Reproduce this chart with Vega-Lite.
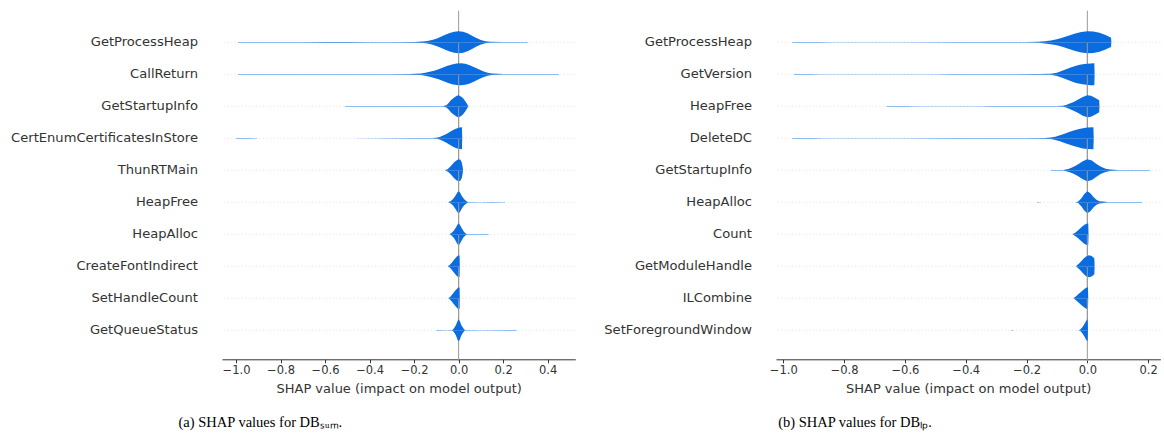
{
  "$schema": "https://vega.github.io/schema/vega-lite/v6.json",
  "background": "white",
  "padding": {"left": 11, "top": 9.5, "right": 0, "bottom": 0},
  "config": {
    "view": {"stroke": null},
    "axis": {"grid": false, "domainColor": "#333333", "tickColor": "#333333", "tickSize": 3.5, "labelFont": "DejaVu Sans", "labelFontSize": 11.5, "labelColor": "#333333", "labelPadding": 2, "titleFont": "DejaVu Sans", "titleFontSize": 13, "titleFontWeight": "normal", "titleColor": "#333333", "titlePadding": 6, "offset": 12.8}
  },
  "datasets": {
    "a": [
      {"feature":"GetProcessHeap","x":-0.99,"w":0.025},{"feature":"GetProcessHeap","x":-0.9,"w":0.03},{"feature":"GetProcessHeap","x":-0.8,"w":0.025},{"feature":"GetProcessHeap","x":-0.7,"w":0.03},{"feature":"GetProcessHeap","x":-0.6,"w":0.035},{"feature":"GetProcessHeap","x":-0.5,"w":0.035},{"feature":"GetProcessHeap","x":-0.4,"w":0.03},{"feature":"GetProcessHeap","x":-0.3,"w":0.03},{"feature":"GetProcessHeap","x":-0.2,"w":0.035},{"feature":"GetProcessHeap","x":-0.16,"w":0.06},{"feature":"GetProcessHeap","x":-0.14,"w":0.11},{"feature":"GetProcessHeap","x":-0.12,"w":0.2},{"feature":"GetProcessHeap","x":-0.1,"w":0.33},{"feature":"GetProcessHeap","x":-0.08,"w":0.5},{"feature":"GetProcessHeap","x":-0.06,"w":0.68},{"feature":"GetProcessHeap","x":-0.04,"w":0.84},{"feature":"GetProcessHeap","x":-0.02,"w":0.96},{"feature":"GetProcessHeap","x":0,"w":1},{"feature":"GetProcessHeap","x":0.02,"w":0.96},{"feature":"GetProcessHeap","x":0.04,"w":0.82},{"feature":"GetProcessHeap","x":0.06,"w":0.6},{"feature":"GetProcessHeap","x":0.08,"w":0.38},{"feature":"GetProcessHeap","x":0.1,"w":0.2},{"feature":"GetProcessHeap","x":0.12,"w":0.09},{"feature":"GetProcessHeap","x":0.14,"w":0.04},{"feature":"GetProcessHeap","x":0.2,"w":0.03},{"feature":"GetProcessHeap","x":0.25,"w":0.03},{"feature":"GetProcessHeap","x":0.31,"w":0.025},
      {"feature":"CallReturn","x":-0.99,"w":0.025},{"feature":"CallReturn","x":-0.9,"w":0.025},{"feature":"CallReturn","x":-0.8,"w":0.03},{"feature":"CallReturn","x":-0.7,"w":0.03},{"feature":"CallReturn","x":-0.6,"w":0.03},{"feature":"CallReturn","x":-0.5,"w":0.03},{"feature":"CallReturn","x":-0.4,"w":0.03},{"feature":"CallReturn","x":-0.3,"w":0.03},{"feature":"CallReturn","x":-0.22,"w":0.035},{"feature":"CallReturn","x":-0.17,"w":0.07},{"feature":"CallReturn","x":-0.15,"w":0.13},{"feature":"CallReturn","x":-0.13,"w":0.22},{"feature":"CallReturn","x":-0.11,"w":0.33},{"feature":"CallReturn","x":-0.09,"w":0.46},{"feature":"CallReturn","x":-0.07,"w":0.62},{"feature":"CallReturn","x":-0.05,"w":0.78},{"feature":"CallReturn","x":-0.03,"w":0.9},{"feature":"CallReturn","x":-0.01,"w":0.98},{"feature":"CallReturn","x":0.01,"w":1},{"feature":"CallReturn","x":0.03,"w":0.95},{"feature":"CallReturn","x":0.05,"w":0.83},{"feature":"CallReturn","x":0.07,"w":0.65},{"feature":"CallReturn","x":0.09,"w":0.45},{"feature":"CallReturn","x":0.11,"w":0.28},{"feature":"CallReturn","x":0.13,"w":0.14},{"feature":"CallReturn","x":0.15,"w":0.06},{"feature":"CallReturn","x":0.2,"w":0.03},{"feature":"CallReturn","x":0.3,"w":0.03},{"feature":"CallReturn","x":0.4,"w":0.025},{"feature":"CallReturn","x":0.45,"w":0.025},
      {"feature":"GetStartupInfo","x":-0.51,"w":0.02},{"feature":"GetStartupInfo","x":-0.4,"w":0.025},{"feature":"GetStartupInfo","x":-0.3,"w":0.02},{"feature":"GetStartupInfo","x":-0.2,"w":0.025},{"feature":"GetStartupInfo","x":-0.1,"w":0.025},{"feature":"GetStartupInfo","x":-0.07,"w":0.03},{"feature":"GetStartupInfo","x":-0.055,"w":0.1},{"feature":"GetStartupInfo","x":-0.045,"w":0.3},{"feature":"GetStartupInfo","x":-0.035,"w":0.55},{"feature":"GetStartupInfo","x":-0.02,"w":0.8},{"feature":"GetStartupInfo","x":-0.008,"w":0.96},{"feature":"GetStartupInfo","x":0,"w":1},{"feature":"GetStartupInfo","x":0.01,"w":0.9},{"feature":"GetStartupInfo","x":0.02,"w":0.72},{"feature":"GetStartupInfo","x":0.03,"w":0.45},{"feature":"GetStartupInfo","x":0.038,"w":0.2},{"feature":"GetStartupInfo","x":0.042,"w":0.05},{"feature":"GetStartupInfo","x":0.045,"w":0},
      {"feature":"CertEnumCertificatesInStore","x":-1.0,"w":0.025},{"feature":"CertEnumCertificatesInStore","x":-0.95,"w":0.025},{"feature":"CertEnumCertificatesInStore","x":-0.9,"w":0.008},{"feature":"CertEnumCertificatesInStore","x":-0.5,"w":0.008},{"feature":"CertEnumCertificatesInStore","x":-0.2,"w":0.015},{"feature":"CertEnumCertificatesInStore","x":-0.12,"w":0.02},{"feature":"CertEnumCertificatesInStore","x":-0.1,"w":0.05},{"feature":"CertEnumCertificatesInStore","x":-0.085,"w":0.12},{"feature":"CertEnumCertificatesInStore","x":-0.07,"w":0.25},{"feature":"CertEnumCertificatesInStore","x":-0.055,"w":0.4},{"feature":"CertEnumCertificatesInStore","x":-0.04,"w":0.58},{"feature":"CertEnumCertificatesInStore","x":-0.025,"w":0.76},{"feature":"CertEnumCertificatesInStore","x":-0.01,"w":0.9},{"feature":"CertEnumCertificatesInStore","x":0.005,"w":0.98},{"feature":"CertEnumCertificatesInStore","x":0.015,"w":1},{"feature":"CertEnumCertificatesInStore","x":0.016,"w":0},
      {"feature":"ThunRTMain","x":-0.06,"w":0.03},{"feature":"ThunRTMain","x":-0.05,"w":0.1},{"feature":"ThunRTMain","x":-0.04,"w":0.28},{"feature":"ThunRTMain","x":-0.03,"w":0.5},{"feature":"ThunRTMain","x":-0.02,"w":0.72},{"feature":"ThunRTMain","x":-0.01,"w":0.9},{"feature":"ThunRTMain","x":0,"w":1},{"feature":"ThunRTMain","x":0.008,"w":0.95},{"feature":"ThunRTMain","x":0.014,"w":0.7},{"feature":"ThunRTMain","x":0.018,"w":0.3},{"feature":"ThunRTMain","x":0.02,"w":0},
      {"feature":"HeapFree","x":-0.045,"w":0.02},{"feature":"HeapFree","x":-0.035,"w":0.12},{"feature":"HeapFree","x":-0.025,"w":0.3},{"feature":"HeapFree","x":-0.015,"w":0.58},{"feature":"HeapFree","x":-0.006,"w":0.88},{"feature":"HeapFree","x":0,"w":1},{"feature":"HeapFree","x":0.006,"w":0.88},{"feature":"HeapFree","x":0.015,"w":0.55},{"feature":"HeapFree","x":0.025,"w":0.28},{"feature":"HeapFree","x":0.035,"w":0.1},{"feature":"HeapFree","x":0.042,"w":0.015},{"feature":"HeapFree","x":0.1,"w":0.012},{"feature":"HeapFree","x":0.15,"w":0.02},{"feature":"HeapFree","x":0.21,"w":0.012},
      {"feature":"HeapAlloc","x":-0.04,"w":0.02},{"feature":"HeapAlloc","x":-0.032,"w":0.12},{"feature":"HeapAlloc","x":-0.022,"w":0.32},{"feature":"HeapAlloc","x":-0.013,"w":0.6},{"feature":"HeapAlloc","x":-0.005,"w":0.9},{"feature":"HeapAlloc","x":0,"w":1},{"feature":"HeapAlloc","x":0.006,"w":0.85},{"feature":"HeapAlloc","x":0.014,"w":0.55},{"feature":"HeapAlloc","x":0.022,"w":0.28},{"feature":"HeapAlloc","x":0.03,"w":0.1},{"feature":"HeapAlloc","x":0.036,"w":0.02},{"feature":"HeapAlloc","x":0.1,"w":0.015},{"feature":"HeapAlloc","x":0.13,"w":0.025},{"feature":"HeapAlloc","x":0.14,"w":0},
      {"feature":"CreateFontIndirect","x":-0.048,"w":0.02},{"feature":"CreateFontIndirect","x":-0.04,"w":0.12},{"feature":"CreateFontIndirect","x":-0.032,"w":0.3},{"feature":"CreateFontIndirect","x":-0.024,"w":0.5},{"feature":"CreateFontIndirect","x":-0.016,"w":0.7},{"feature":"CreateFontIndirect","x":-0.008,"w":0.88},{"feature":"CreateFontIndirect","x":0,"w":1},{"feature":"CreateFontIndirect","x":0.004,"w":0.95},{"feature":"CreateFontIndirect","x":0.005,"w":0},
      {"feature":"SetHandleCount","x":-0.045,"w":0.02},{"feature":"SetHandleCount","x":-0.037,"w":0.15},{"feature":"SetHandleCount","x":-0.03,"w":0.32},{"feature":"SetHandleCount","x":-0.022,"w":0.52},{"feature":"SetHandleCount","x":-0.014,"w":0.72},{"feature":"SetHandleCount","x":-0.006,"w":0.9},{"feature":"SetHandleCount","x":0,"w":1},{"feature":"SetHandleCount","x":0.004,"w":0.95},{"feature":"SetHandleCount","x":0.005,"w":0},
      {"feature":"GetQueueStatus","x":-0.1,"w":0.02},{"feature":"GetQueueStatus","x":-0.05,"w":0.01},{"feature":"GetQueueStatus","x":-0.028,"w":0.03},{"feature":"GetQueueStatus","x":-0.02,"w":0.2},{"feature":"GetQueueStatus","x":-0.012,"w":0.48},{"feature":"GetQueueStatus","x":-0.005,"w":0.85},{"feature":"GetQueueStatus","x":0,"w":1},{"feature":"GetQueueStatus","x":0.005,"w":0.85},{"feature":"GetQueueStatus","x":0.012,"w":0.48},{"feature":"GetQueueStatus","x":0.02,"w":0.2},{"feature":"GetQueueStatus","x":0.028,"w":0.03},{"feature":"GetQueueStatus","x":0.1,"w":0.01},{"feature":"GetQueueStatus","x":0.26,"w":0.02}
    ],
    "b": [
      {"feature":"GetProcessHeap","x":-0.97,"w":0.025},{"feature":"GetProcessHeap","x":-0.93,"w":0.03},{"feature":"GetProcessHeap","x":-0.88,"w":0.025},{"feature":"GetProcessHeap","x":-0.85,"w":0.01},{"feature":"GetProcessHeap","x":-0.6,"w":0.01},{"feature":"GetProcessHeap","x":-0.42,"w":0.02},{"feature":"GetProcessHeap","x":-0.35,"w":0.025},{"feature":"GetProcessHeap","x":-0.26,"w":0.03},{"feature":"GetProcessHeap","x":-0.2,"w":0.025},{"feature":"GetProcessHeap","x":-0.16,"w":0.05},{"feature":"GetProcessHeap","x":-0.14,"w":0.1},{"feature":"GetProcessHeap","x":-0.12,"w":0.17},{"feature":"GetProcessHeap","x":-0.1,"w":0.28},{"feature":"GetProcessHeap","x":-0.08,"w":0.43},{"feature":"GetProcessHeap","x":-0.06,"w":0.62},{"feature":"GetProcessHeap","x":-0.04,"w":0.8},{"feature":"GetProcessHeap","x":-0.02,"w":0.93},{"feature":"GetProcessHeap","x":0,"w":1},{"feature":"GetProcessHeap","x":0.02,"w":0.97},{"feature":"GetProcessHeap","x":0.04,"w":0.86},{"feature":"GetProcessHeap","x":0.06,"w":0.66},{"feature":"GetProcessHeap","x":0.07,"w":0.52},{"feature":"GetProcessHeap","x":0.078,"w":0.42},{"feature":"GetProcessHeap","x":0.079,"w":0},
      {"feature":"GetVersion","x":-0.965,"w":0.025},{"feature":"GetVersion","x":-0.91,"w":0.025},{"feature":"GetVersion","x":-0.88,"w":0.01},{"feature":"GetVersion","x":-0.5,"w":0.01},{"feature":"GetVersion","x":-0.45,"w":0.02},{"feature":"GetVersion","x":-0.35,"w":0.025},{"feature":"GetVersion","x":-0.25,"w":0.03},{"feature":"GetVersion","x":-0.16,"w":0.035},{"feature":"GetVersion","x":-0.12,"w":0.05},{"feature":"GetVersion","x":-0.1,"w":0.15},{"feature":"GetVersion","x":-0.085,"w":0.3},{"feature":"GetVersion","x":-0.07,"w":0.45},{"feature":"GetVersion","x":-0.055,"w":0.62},{"feature":"GetVersion","x":-0.04,"w":0.76},{"feature":"GetVersion","x":-0.025,"w":0.87},{"feature":"GetVersion","x":-0.01,"w":0.94},{"feature":"GetVersion","x":0.01,"w":0.99},{"feature":"GetVersion","x":0.023,"w":1},{"feature":"GetVersion","x":0.024,"w":0},
      {"feature":"HeapFree","x":-0.66,"w":0.02},{"feature":"HeapFree","x":-0.6,"w":0.02},{"feature":"HeapFree","x":-0.55,"w":0.01},{"feature":"HeapFree","x":-0.35,"w":0.01},{"feature":"HeapFree","x":-0.32,"w":0.025},{"feature":"HeapFree","x":-0.2,"w":0.025},{"feature":"HeapFree","x":-0.1,"w":0.03},{"feature":"HeapFree","x":-0.08,"w":0.05},{"feature":"HeapFree","x":-0.07,"w":0.12},{"feature":"HeapFree","x":-0.06,"w":0.22},{"feature":"HeapFree","x":-0.045,"w":0.4},{"feature":"HeapFree","x":-0.03,"w":0.62},{"feature":"HeapFree","x":-0.015,"w":0.85},{"feature":"HeapFree","x":0,"w":1},{"feature":"HeapFree","x":0.012,"w":0.95},{"feature":"HeapFree","x":0.025,"w":0.78},{"feature":"HeapFree","x":0.035,"w":0.62},{"feature":"HeapFree","x":0.039,"w":0.55},{"feature":"HeapFree","x":0.04,"w":0},
      {"feature":"DeleteDC","x":-0.97,"w":0.02},{"feature":"DeleteDC","x":-0.9,"w":0.025},{"feature":"DeleteDC","x":-0.87,"w":0.01},{"feature":"DeleteDC","x":-0.6,"w":0.01},{"feature":"DeleteDC","x":-0.45,"w":0.015},{"feature":"DeleteDC","x":-0.3,"w":0.02},{"feature":"DeleteDC","x":-0.2,"w":0.025},{"feature":"DeleteDC","x":-0.14,"w":0.035},{"feature":"DeleteDC","x":-0.12,"w":0.07},{"feature":"DeleteDC","x":-0.105,"w":0.15},{"feature":"DeleteDC","x":-0.09,"w":0.27},{"feature":"DeleteDC","x":-0.075,"w":0.42},{"feature":"DeleteDC","x":-0.06,"w":0.57},{"feature":"DeleteDC","x":-0.045,"w":0.7},{"feature":"DeleteDC","x":-0.03,"w":0.82},{"feature":"DeleteDC","x":-0.015,"w":0.92},{"feature":"DeleteDC","x":0,"w":0.97},{"feature":"DeleteDC","x":0.02,"w":1},{"feature":"DeleteDC","x":0.021,"w":0},
      {"feature":"GetStartupInfo","x":-0.12,"w":0.015},{"feature":"GetStartupInfo","x":-0.08,"w":0.03},{"feature":"GetStartupInfo","x":-0.07,"w":0.08},{"feature":"GetStartupInfo","x":-0.06,"w":0.15},{"feature":"GetStartupInfo","x":-0.045,"w":0.32},{"feature":"GetStartupInfo","x":-0.03,"w":0.55},{"feature":"GetStartupInfo","x":-0.015,"w":0.82},{"feature":"GetStartupInfo","x":0,"w":1},{"feature":"GetStartupInfo","x":0.015,"w":0.88},{"feature":"GetStartupInfo","x":0.03,"w":0.58},{"feature":"GetStartupInfo","x":0.045,"w":0.32},{"feature":"GetStartupInfo","x":0.06,"w":0.15},{"feature":"GetStartupInfo","x":0.075,"w":0.06},{"feature":"GetStartupInfo","x":0.1,"w":0.025},{"feature":"GetStartupInfo","x":0.15,"w":0.025},{"feature":"GetStartupInfo","x":0.2,"w":0.03},{"feature":"GetStartupInfo","x":0.21,"w":0},
      {"feature":"HeapAlloc","x":-0.165,"w":0.02},{"feature":"HeapAlloc","x":-0.15,"w":0.008},{"feature":"HeapAlloc","x":-0.04,"w":0.008},{"feature":"HeapAlloc","x":-0.03,"w":0.06},{"feature":"HeapAlloc","x":-0.02,"w":0.35},{"feature":"HeapAlloc","x":-0.01,"w":0.75},{"feature":"HeapAlloc","x":0,"w":1},{"feature":"HeapAlloc","x":0.01,"w":0.82},{"feature":"HeapAlloc","x":0.02,"w":0.48},{"feature":"HeapAlloc","x":0.03,"w":0.22},{"feature":"HeapAlloc","x":0.04,"w":0.1},{"feature":"HeapAlloc","x":0.06,"w":0.04},{"feature":"HeapAlloc","x":0.065,"w":0.015},{"feature":"HeapAlloc","x":0.17,"w":0.015},{"feature":"HeapAlloc","x":0.18,"w":0.02},
      {"feature":"Count","x":-0.048,"w":0.03},{"feature":"Count","x":-0.04,"w":0.15},{"feature":"Count","x":-0.032,"w":0.32},{"feature":"Count","x":-0.024,"w":0.52},{"feature":"Count","x":-0.016,"w":0.72},{"feature":"Count","x":-0.008,"w":0.9},{"feature":"Count","x":0,"w":0.98},{"feature":"Count","x":0.003,"w":1},{"feature":"Count","x":0.004,"w":0},
      {"feature":"GetModuleHandle","x":-0.036,"w":0.04},{"feature":"GetModuleHandle","x":-0.028,"w":0.22},{"feature":"GetModuleHandle","x":-0.02,"w":0.45},{"feature":"GetModuleHandle","x":-0.012,"w":0.7},{"feature":"GetModuleHandle","x":-0.004,"w":0.9},{"feature":"GetModuleHandle","x":0.005,"w":1},{"feature":"GetModuleHandle","x":0.014,"w":0.93},{"feature":"GetModuleHandle","x":0.02,"w":0.8},{"feature":"GetModuleHandle","x":0.023,"w":0.72},{"feature":"GetModuleHandle","x":0.024,"w":0},
      {"feature":"ILCombine","x":-0.045,"w":0.03},{"feature":"ILCombine","x":-0.037,"w":0.18},{"feature":"ILCombine","x":-0.029,"w":0.38},{"feature":"ILCombine","x":-0.021,"w":0.58},{"feature":"ILCombine","x":-0.013,"w":0.77},{"feature":"ILCombine","x":-0.005,"w":0.93},{"feature":"ILCombine","x":0.002,"w":1},{"feature":"ILCombine","x":0.003,"w":0},
      {"feature":"SetForegroundWindow","x":-0.25,"w":0.02},{"feature":"SetForegroundWindow","x":-0.24,"w":0.008},{"feature":"SetForegroundWindow","x":-0.03,"w":0.008},{"feature":"SetForegroundWindow","x":-0.024,"w":0.05},{"feature":"SetForegroundWindow","x":-0.017,"w":0.25},{"feature":"SetForegroundWindow","x":-0.01,"w":0.55},{"feature":"SetForegroundWindow","x":-0.004,"w":0.85},{"feature":"SetForegroundWindow","x":0,"w":0.97},{"feature":"SetForegroundWindow","x":0.001,"w":1},{"feature":"SetForegroundWindow","x":0.002,"w":0}
    ]
  },
  "spacing": 28,
  "hconcat": [
    {
      "data": {"name": "a"},
      "title": {"text": "(a) SHAP values for DBₛᵤₘ.", "orient": "bottom", "anchor": "middle", "frame": "bounds", "font": "Liberation Serif", "fontSize": 14.5, "fontWeight": "normal", "color": "#000000", "offset": 21, "dx": -33},
      "facet": {"row": {"field": "feature", "type": "nominal", "title": null,
        "sort": ["GetProcessHeap","CallReturn","GetStartupInfo","CertEnumCertificatesInStore","ThunRTMain","HeapFree","HeapAlloc","CreateFontIndirect","SetHandleCount","GetQueueStatus"],
        "header": {"labels": false, "title": null}}},
      "spacing": {"row": -0.44},
      "bounds": "flush",
      "spec": {
        "width": 353.3,
        "height": 31.56,
        "resolve": {"scale": {"y": "independent"}},
        "layer": [
          {
            "transform": [{"aggregate": [{"op": "count", "as": "n"}], "groupby": ["feature"]}],
            "mark": {"type": "rule", "color": "#cccccc", "strokeWidth": 0.6, "strokeDash": [1, 2.5]},
            "encoding": {"y": {"datum": 0, "type": "quantitative", "scale": {"domain": [-1.4345, 1.4345]}, "axis": null}}
          },
          {
            "transform": [{"aggregate": [{"op": "count", "as": "n"}], "groupby": ["feature"]}],
            "mark": {"type": "rule", "color": "#999999", "strokeWidth": 1},
            "encoding": {
              "x": {"datum": 0, "type": "quantitative", "scale": {"domain": [-1.063, 0.524], "nice": false, "zero": false}, "axis": {"values": [-1, -0.8, -0.6, -0.4, -0.2, 0, 0.2, 0.4], "format": ".1f", "title": "SHAP value (impact on model output)"}},
              "y": {"datum": -2.8, "type": "quantitative", "scale": {"domain": [-1.4345, 1.4345]}, "axis": null},
              "y2": {"datum": 2.869}
            }
          },
          {
            "transform": [{"aggregate": [{"op": "count", "as": "n"}], "groupby": ["feature"]}],
            "mark": {"type": "text", "align": "right", "baseline": "middle", "dx": -24, "font": "DejaVu Sans", "fontSize": 13.1, "color": "#333333"},
            "encoding": {
              "x": {"datum": -1.063, "type": "quantitative", "scale": {"domain": [-1.063, 0.524], "nice": false, "zero": false}, "axis": {"values": [-1, -0.8, -0.6, -0.4, -0.2, 0, 0.2, 0.4], "format": ".1f", "title": "SHAP value (impact on model output)"}},
              "y": {"datum": 0, "type": "quantitative", "scale": {"domain": [-1.4345, 1.4345]}, "axis": null},
              "text": {"field": "feature", "type": "nominal"}
            }
          },
          {
            "mark": {"type": "area", "orient": "vertical", "color": "#0b6ce0"},
            "encoding": {
              "x": {"field": "x", "type": "quantitative", "scale": {"domain": [-1.063, 0.524], "nice": false, "zero": false}, "axis": {"values": [-1, -0.8, -0.6, -0.4, -0.2, 0, 0.2, 0.4], "format": ".1f", "title": "SHAP value (impact on model output)"}},
              "y": {"field": "w", "type": "quantitative", "stack": null, "scale": {"domain": [-1.4345, 1.4345]}, "axis": null}
            }
          },
          {
            "mark": {"type": "area", "orient": "vertical", "color": "#0b6ce0"},
            "encoding": {
              "x": {"field": "x", "type": "quantitative", "scale": {"domain": [-1.063, 0.524], "nice": false, "zero": false}, "axis": {"values": [-1, -0.8, -0.6, -0.4, -0.2, 0, 0.2, 0.4], "format": ".1f", "title": "SHAP value (impact on model output)"}},
              "y": {"field": "w", "type": "quantitative", "stack": null, "scale": {"domain": [-1.4345, 1.4345], "reverse": true}, "axis": null}
            }
          }
        ]
      }
    },
    {
      "data": {"name": "b"},
      "title": {"text": "(b) SHAP values for DBₗₚ.", "orient": "bottom", "anchor": "middle", "frame": "bounds", "font": "Liberation Serif", "fontSize": 14.5, "fontWeight": "normal", "color": "#000000", "offset": 21, "dx": -27.5},
      "facet": {"row": {"field": "feature", "type": "nominal", "title": null,
        "sort": ["GetProcessHeap","GetVersion","HeapFree","DeleteDC","GetStartupInfo","HeapAlloc","Count","GetModuleHandle","ILCombine","SetForegroundWindow"],
        "header": {"labels": false, "title": null}}},
      "spacing": {"row": -0.44},
      "bounds": "flush",
      "spec": {
        "width": 384.3,
        "height": 31.56,
        "resolve": {"scale": {"y": "independent"}},
        "layer": [
          {
            "transform": [{"aggregate": [{"op": "count", "as": "n"}], "groupby": ["feature"]}],
            "mark": {"type": "rule", "color": "#cccccc", "strokeWidth": 0.6, "strokeDash": [1, 2.5]},
            "encoding": {"y": {"datum": 0, "type": "quantitative", "scale": {"domain": [-1.4345, 1.4345]}, "axis": null}}
          },
          {
            "transform": [{"aggregate": [{"op": "count", "as": "n"}], "groupby": ["feature"]}],
            "mark": {"type": "rule", "color": "#999999", "strokeWidth": 1},
            "encoding": {
              "x": {"datum": 0, "type": "quantitative", "scale": {"domain": [-1.024, 0.24], "nice": false, "zero": false}, "axis": {"values": [-1, -0.8, -0.6, -0.4, -0.2, 0, 0.2], "format": ".1f", "title": "SHAP value (impact on model output)"}},
              "y": {"datum": -2.8, "type": "quantitative", "scale": {"domain": [-1.4345, 1.4345]}, "axis": null},
              "y2": {"datum": 2.869}
            }
          },
          {
            "transform": [{"aggregate": [{"op": "count", "as": "n"}], "groupby": ["feature"]}],
            "mark": {"type": "text", "align": "right", "baseline": "middle", "dx": -24, "font": "DejaVu Sans", "fontSize": 13.1, "color": "#333333"},
            "encoding": {
              "x": {"datum": -1.024, "type": "quantitative", "scale": {"domain": [-1.024, 0.24], "nice": false, "zero": false}, "axis": {"values": [-1, -0.8, -0.6, -0.4, -0.2, 0, 0.2], "format": ".1f", "title": "SHAP value (impact on model output)"}},
              "y": {"datum": 0, "type": "quantitative", "scale": {"domain": [-1.4345, 1.4345]}, "axis": null},
              "text": {"field": "feature", "type": "nominal"}
            }
          },
          {
            "mark": {"type": "area", "orient": "vertical", "color": "#0b6ce0"},
            "encoding": {
              "x": {"field": "x", "type": "quantitative", "scale": {"domain": [-1.024, 0.24], "nice": false, "zero": false}, "axis": {"values": [-1, -0.8, -0.6, -0.4, -0.2, 0, 0.2], "format": ".1f", "title": "SHAP value (impact on model output)"}},
              "y": {"field": "w", "type": "quantitative", "stack": null, "scale": {"domain": [-1.4345, 1.4345]}, "axis": null}
            }
          },
          {
            "mark": {"type": "area", "orient": "vertical", "color": "#0b6ce0"},
            "encoding": {
              "x": {"field": "x", "type": "quantitative", "scale": {"domain": [-1.024, 0.24], "nice": false, "zero": false}, "axis": {"values": [-1, -0.8, -0.6, -0.4, -0.2, 0, 0.2], "format": ".1f", "title": "SHAP value (impact on model output)"}},
              "y": {"field": "w", "type": "quantitative", "stack": null, "scale": {"domain": [-1.4345, 1.4345], "reverse": true}, "axis": null}
            }
          }
        ]
      }
    }
  ]
}
